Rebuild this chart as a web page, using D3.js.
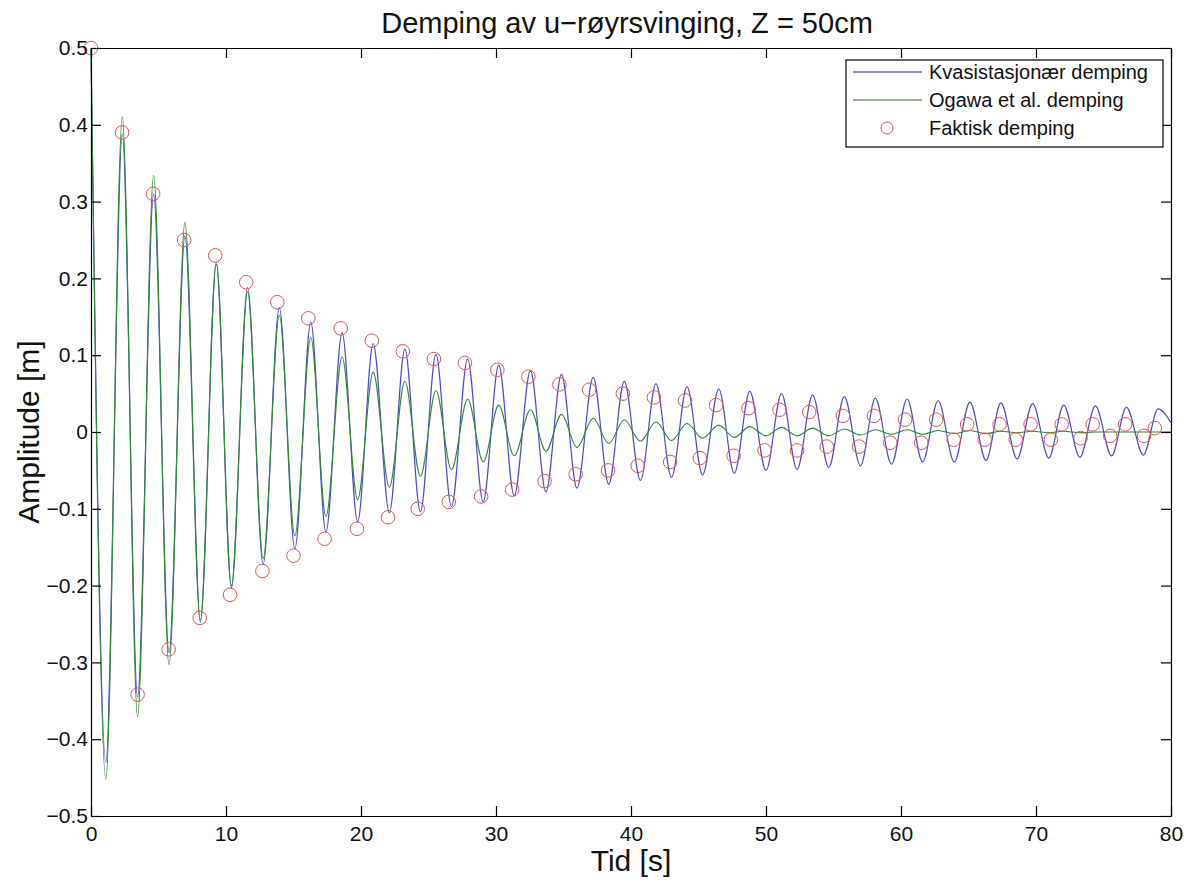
<!DOCTYPE html>
<html><head><meta charset="utf-8">
<script src="https://cdn.jsdelivr.net/npm/d3@7"></script>
<style>body{margin:0;background:#fff}svg{display:block}</style>
</head><body><svg id="c" width="1193" height="881"></svg>
<script>
// ---- data (extrema of each trace) ----
const kvasiT = [0,1.10,2.32,3.45,4.64,5.78,6.96,8.10,9.28,10.40,11.60,12.75,13.95,15.10,16.28,17.40,18.60,19.75,20.90,22.10,23.25,24.40,25.55,26.70,27.90,29.05,30.20,31.35,32.55,33.70,34.85,36.00,37.20,38.35,39.50,40.70,41.85,43.00,44.15,45.30,46.50,47.65,48.80,50.00,51.15,52.30,53.45,54.65,55.80,57.00,58.10,59.30,60.45,61.60,62.75,63.95,65.10,66.30,67.40,68.60,69.75,70.95,72.05,73.25,74.40,75.60,76.70,77.95,79.05,80.00];
const kvasiV = [0.50,-0.43,0.388,-0.345,0.31,-0.287,0.255,-0.245,0.219,-0.203,0.188,-0.172,0.162,-0.152,0.143,-0.13,0.129,-0.117,0.115,-0.105,0.108,-0.104,0.101,-0.097,0.095,-0.091,0.087,-0.083,0.08,-0.078,0.075,-0.073,0.071,-0.068,0.066,-0.063,0.063,-0.059,0.059,-0.056,0.056,-0.054,0.053,-0.05,0.05,-0.049,0.048,-0.046,0.046,-0.044,0.044,-0.042,0.043,-0.039,0.041,-0.039,0.039,-0.037,0.038,-0.035,0.037,-0.034,0.035,-0.033,0.034,-0.031,0.032,-0.03,0.03,0.012];

const ogawaT = [0,1.10,2.32,3.45,4.64,5.78,6.96,8.10,9.28,10.40,11.60,12.75,13.95,15.10,16.28,17.40,18.60,19.75,20.90,22.10,23.25,24.40,25.55,26.70,27.90,29.05,30.20,31.35,32.55,33.70,34.85,36.00,37.20,38.35,39.50,40.70,41.85,43.00,44.15,45.30,46.50,47.65,48.80,50.00,51.15,52.30,53.45,54.65,55.80,57.00,58.10,59.30,60.45,61.60,62.75,63.95,65.10,66.30,67.40,68.60,69.75,70.95,72.05,73.25,74.40,75.60,76.70,77.95,79.05,80.00];
const ogawaV = [0.50,-0.452,0.41,-0.371,0.334,-0.303,0.273,-0.248,0.222,-0.2,0.183,-0.165,0.152,-0.135,0.123,-0.11,0.098,-0.088,0.078,-0.072,0.066,-0.058,0.054,-0.049,0.043,-0.039,0.035,-0.031,0.029,-0.025,0.023,-0.02,0.018,-0.015,0.016,-0.012,0.013,-0.011,0.011,-0.008,0.009,-0.007,0.007,-0.005,0.006,-0.005,0.005,-0.005,0.004,-0.004,0.003,-0.003,0.003,-0.003,0.002,-0.002,0.002,-0.002,0.001,-0.001,0.001,-0.001,0.001,-0.001,0.0,0.0,0.0,0.0,0.0,0.0];

const faktiskT = [0,2.3,3.45,4.6,5.75,6.9,8.05,9.2,10.3,11.5,12.7,13.8,15.0,16.1,17.3,18.5,19.7,20.8,22.0,23.1,24.2,25.4,26.5,27.7,28.9,30.1,31.2,32.4,33.6,34.7,35.9,36.9,38.3,39.4,40.5,41.7,42.9,44.0,45.1,46.3,47.6,48.7,49.9,51.0,52.3,53.2,54.5,55.7,56.9,58.0,59.2,60.3,61.5,62.6,63.9,64.9,66.2,67.3,68.5,69.6,71.1,71.9,73.3,74.2,75.5,76.6,78.0,78.8];
const faktiskV = [0.5,0.39,-0.342,0.31,-0.283,0.25,-0.242,0.23,-0.212,0.195,-0.181,0.169,-0.161,0.148,-0.139,0.135,-0.126,0.119,-0.111,0.105,-0.1,0.095,-0.091,0.09,-0.084,0.081,-0.075,0.072,-0.064,0.062,-0.055,0.055,-0.05,0.05,-0.044,0.045,-0.039,0.041,-0.034,0.035,-0.031,0.031,-0.024,0.029,-0.024,0.026,-0.019,0.021,-0.019,0.021,-0.014,0.016,-0.014,0.016,-0.01,0.01,-0.01,0.01,-0.01,0.01,-0.01,0.01,-0.008,0.01,-0.005,0.01,-0.005,0.005];

const xTicks = [0,10,20,30,40,50,60,70,80];
const yTicks = [-0.5,-0.4,-0.3,-0.2,-0.1,0,0.1,0.2,0.3,0.4,0.5];
const yTickLabels = ["\u22120.5","\u22120.4","\u22120.3","\u22120.2","\u22120.1","0","0.1","0.2","0.3","0.4","0.5"];
const seriesNames = ["Kvasistasjon\u00e6r demping","Ogawa et al. demping","Faktisk demping"];
const titleText = "Demping av u\u2212r\u00f8yrsvinging, Z = 50cm";
const xLabel = "Tid [s]";
const yLabel = "Amplitude [m]";

// ---- layout ----
const FONT = "'Liberation Sans', Arial, sans-serif";
const L = 91, R = 1171, T = 48, B = 816;
const colBlue = "#4c4cc8", colGreen = "#318a31", colRed = "#e05555";

const svg = d3.select("#c");
const x = d3.scaleLinear().domain([0, 80]).range([L, R]);
const y = d3.scaleLinear().domain([-0.5, 0.5]).range([B, T]);

// series
const line = d3.line().x(d => x(d[0])).y(d => y(d[1])).curve(d3.curveMonotoneX);
const kvasi = kvasiT.map((t, i) => [t, kvasiV[i]]);
const ogawa = ogawaT.map((t, i) => [t, ogawaV[i]]);
const faktisk = faktiskT.map((t, i) => [t, faktiskV[i]]);

svg.append("path").datum(kvasi).attr("d", line)
  .attr("fill", "none").attr("stroke", colBlue).attr("stroke-width", 1.2);
svg.append("path").datum(ogawa).attr("d", line)
  .attr("fill", "none").attr("stroke", colGreen).attr("stroke-width", 1.1);
svg.append("g").selectAll("circle").data(faktisk).join("circle")
  .attr("cx", d => x(d[0])).attr("cy", d => y(d[1])).attr("r", 6.8)
  .attr("fill", "none").attr("stroke", colRed).attr("stroke-width", 1);

// axes (box with inward ticks)
function styleAxis(g) {
  g.selectAll(".domain").attr("stroke", "#000").attr("stroke-width", 1.2);
  g.selectAll(".tick line").attr("stroke", "#000").attr("stroke-width", 1.2);
  g.selectAll(".tick text").attr("fill", "#111").style("font-family", FONT).style("font-size", "21px");
}
svg.append("g").attr("transform", `translate(0,${B})`)
  .call(d3.axisBottom(x).tickValues(xTicks).tickSizeInner(-10).tickSizeOuter(0).tickPadding(10).tickFormat(d3.format("d")))
  .call(styleAxis);
svg.append("g").attr("transform", `translate(0,${T})`)
  .call(d3.axisTop(x).tickValues(xTicks).tickSizeInner(-10).tickSizeOuter(0).tickFormat(""))
  .call(styleAxis);
svg.append("g").attr("transform", `translate(${L},0)`)
  .call(d3.axisLeft(y).tickValues(yTicks).tickSizeInner(-10).tickSizeOuter(0).tickPadding(3)
    .tickFormat((d, i) => yTickLabels[i]))
  .call(styleAxis);
svg.append("g").attr("transform", `translate(${R},0)`)
  .call(d3.axisRight(y).tickValues(yTicks).tickSizeInner(-10).tickSizeOuter(0).tickFormat(""))
  .call(styleAxis);

// texts
svg.append("text").attr("x", (L + R) / 2 - 4).attr("y", 33).attr("text-anchor", "middle")
  .style("font-family", FONT).style("font-size", "29px").attr("fill", "#111").text(titleText);
svg.append("text").attr("x", (L + R) / 2).attr("y", 871).attr("text-anchor", "middle")
  .style("font-family", FONT).style("font-size", "30px").attr("fill", "#111").text(xLabel);
svg.append("text").attr("transform", `translate(39,${(T + B) / 2}) rotate(-90)`).attr("text-anchor", "middle")
  .style("font-family", FONT).style("font-size", "30px").attr("fill", "#111").text(yLabel);

// legend
const lg = svg.append("g");
lg.append("rect").attr("x", 846).attr("y", 60).attr("width", 317).attr("height", 87)
  .attr("fill", "#fff").attr("stroke", "#000").attr("stroke-width", 1.2);
const rowsY = [72, 100, 128];
const kinds = ["line", "line", "circle"];
const cols = [colBlue, colGreen, colRed];
seriesNames.forEach((name, i) => {
  if (kinds[i] === "line") {
    lg.append("line").attr("x1", 853).attr("x2", 922).attr("y1", rowsY[i]).attr("y2", rowsY[i])
      .attr("stroke", i === 0 ? "#1f1f8f" : "#1f7a1f").attr("stroke-width", 1.2);
  } else {
    lg.append("circle").attr("cx", 887).attr("cy", rowsY[i]).attr("r", 6)
      .attr("fill", "none").attr("stroke", cols[i]).attr("stroke-width", 1);
  }
  lg.append("text").attr("x", 929).attr("y", rowsY[i] + 7)
    .style("font-family", FONT).style("font-size", "20px").attr("fill", "#111").text(name);
});
</script>
</body></html>
